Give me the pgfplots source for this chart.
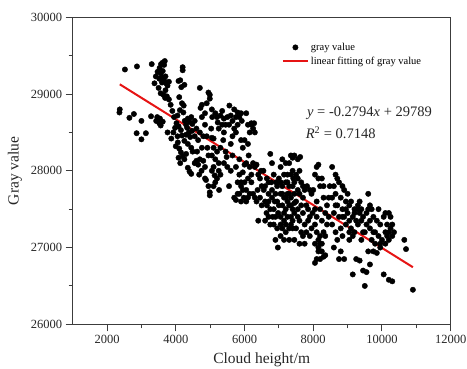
\documentclass[border=0pt]{standalone}
\usepackage{pgfplots}
\pgfplotsset{compat=1.18}
\usepackage{fontspec}
\setmainfont{Liberation Serif}
\definecolor{fitred}{RGB}{230,20,20}
\definecolor{axgray}{RGB}{60,60,60}
\pgfplotsset{
  scatleg/.style={legend image code/.code={\draw[##1] plot coordinates {(12.5pt,0pt)};}},
  lineleg/.style={legend image code/.code={\draw[##1] (0pt,0pt) -- (25pt,0pt);}},
}
\begin{document}
\begin{tikzpicture}
\begin{axis}[
  scale only axis,
  width=378pt, height=307pt,
  xmin=1000, xmax=12000, ymin=26000, ymax=30000,
  xtick={2000,4000,...,12000}, ytick={26000,27000,...,30000},
  minor x tick num=1, minor y tick num=1,
  xtick pos=bottom, ytick pos=left,
  tick align=outside,
  major tick length=7pt, minor tick length=4pt,
  axis line style={axgray, line width=1.1pt},
  every tick/.style={axgray, line width=1pt},
  scaled ticks=false,
  /pgf/number format/1000 sep={},
  /pgf/number format/assume math mode=true,
  tick label style={font=\fontsize{12.5}{14}\selectfont, text=black!85},
  xlabel={Cloud height/m}, ylabel={Gray value},
  label style={font=\fontsize{15.5}{18}\selectfont, text=black!85},
  xlabel style={at={(axis description cs:0.5,-0.117)}, anchor=center},
  ylabel style={at={(axis description cs:-0.153,0.5)}, anchor=center},
  legend style={draw=none, fill=none, at={(axis description cs:0.545,0.93)}, anchor=north west,
    font=\fontsize{10.5}{12}\selectfont, row sep=1pt},
  legend cell align=left,
]
\addplot[only marks, mark=*, mark size=2.7pt, black, scatleg]
table[row sep=\\]{
x y\\
2370 28800\\ 2360 28760\\ 2520 29320\\ 2870 29360\\ 2650 28690\\ 2780 28740\\ 2860 28490\\ 3000 28410\\ 3000 28650\\ 3130 28490\\ 3300 29390\\ 3280 28710\\ 3380 29140\\ 3420 29230\\ 3430 28650\\
3470 29290\\ 3530 29340\\ 3570 29390\\ 3620 29410\\ 3680 29430\\ 3660 29380\\ 3560 29270\\ 3620 29300\\ 3600 29220\\ 3700 29230\\ 3520 29200\\ 3600 29150\\ 3660 29180\\ 3720 29140\\ 3500 29080\\ 3560 29010\\ 3640 28990\\ 3760 29110\\ 3800 29160\\ 3460 28700\\ 3540 28680\\ 3560 28590\\ 3690 28950\\ 3800 28930\\ 3850 28860\\ 3760 28500\\ 3900 28780\\ 3950 28700\\ 3980 28560\\ 3870 28420\\ 3930 28500\\ 3620 28640\\ 3520 28620\\ 3700 29050\\ 3740 28970\\
4080 29170\\ 4130 29180\\ 4200 29350\\ 4200 29310\\ 4160 29090\\ 4100 28960\\ 4250 29120\\ 4180 28880\\ 4120 28790\\ 4050 28720\\ 4230 28850\\ 4220 28760\\ 4020 28620\\ 4080 28580\\ 4150 28530\\ 4260 28650\\ 4300 28600\\ 4350 28680\\ 4400 28640\\ 4450 28700\\ 4480 28610\\ 4380 28500\\ 4420 28440\\ 4180 28460\\ 4250 28390\\ 4300 28470\\ 4060 28370\\ 4000 28320\\ 4100 28290\\ 4150 28240\\ 4200 28190\\ 4080 28170\\ 4130 28100\\ 4350 28350\\ 4450 28300\\ 4490 28250\\ 4250 28150\\ 4350 28040\\ 4400 27990\\ 4450 27960\\ 4300 28220\\ 4050 28450\\ 4330 28560\\ 4470 28520\\
4550 28100\\ 4600 28130\\ 4650 28080\\ 4700 28150\\ 4760 28300\\ 4650 28400\\ 4700 28500\\ 4550 28450\\ 4600 28550\\ 4760 28700\\ 4720 28820\\ 4760 28860\\ 4700 29080\\ 4850 28750\\ 4900 28880\\ 4950 29020\\ 4990 28990\\ 4990 28940\\ 4850 28600\\ 4900 28450\\ 4620 28250\\ 4800 28130\\ 4850 27900\\ 4750 28000\\ 4880 27880\\ 4950 27800\\ 4990 27680\\ 4990 27720\\ 4550 28650\\ 4800 28450\\ 4920 28300\\ 4950 28200\\ 4850 28050\\ 4680 27950\\
5050 28800\\ 5060 28700\\ 5150 28750\\ 5200 28700\\ 5300 28720\\ 5400 28680\\ 5350 28600\\ 5250 28550\\ 5100 28420\\ 5050 28430\\ 5100 28300\\ 5200 28250\\ 5050 28200\\ 5150 28150\\ 5250 28100\\ 5100 28050\\ 5300 27950\\ 5200 27900\\ 5150 27850\\ 5100 27800\\ 5250 28000\\ 5450 28250\\ 5400 28100\\ 5500 28050\\ 5550 27800\\ 5400 28500\\ 5450 28600\\ 5500 28700\\ 5350 28780\\ 5030 28550\\ 5050 28000\\ 5220 28630\\ 5300 28300\\ 5380 28400\\ 5480 28180\\ 5260 27750\\ 5130 27940\\
5560 28850\\ 5700 28800\\ 5800 28760\\ 5750 28700\\ 5650 28650\\ 5850 28700\\ 5900 28750\\ 5800 28600\\ 5700 28550\\ 5750 28500\\ 5600 28350\\ 5650 28200\\ 5750 28050\\ 5850 27950\\ 5800 27850\\ 5900 27800\\ 5700 27650\\ 5750 27620\\ 5850 27700\\ 5900 27600\\ 5950 27750\\ 5980 27650\\ 5900 27850\\ 5950 27980\\ 5850 28150\\ 5950 28300\\ 5900 28400\\ 5600 28720\\ 5550 28600\\ 5650 28450\\ 5800 27700\\ 5600 28000\\ 5920 28650\\
6050 28750\\ 6100 28600\\ 6200 28600\\ 6250 28550\\ 6150 28500\\ 6300 28500\\ 6100 28350\\ 6000 28400\\ 6050 28100\\ 6150 28050\\ 6200 27950\\ 6250 28100\\ 6300 28050\\ 6100 27900\\ 6000 27850\\ 6050 27750\\ 6150 27700\\ 6250 27700\\ 6300 27650\\ 6050 27600\\ 6100 27650\\ 6400 27350\\ 6350 27600\\ 6200 27850\\ 6400 27950\\ 6450 27900\\ 6500 27800\\ 6480 28000\\ 6350 28080\\ 6200 28620\\ 6280 28620\\ 6000 28080\\ 6120 28200\\ 6380 27750\\ 6500 27550\\ 6450 27650\\
6750 28220\\ 6800 28100\\ 6850 27950\\ 6700 27850\\ 6650 27900\\ 6600 27800\\ 6600 27600\\ 6650 27550\\ 6700 27400\\ 6600 27350\\ 6750 27300\\ 6800 27650\\ 6850 27500\\ 6900 27700\\ 6950 27800\\ 6950 27600\\ 6900 27400\\ 6850 27300\\ 6900 27100\\ 6950 27250\\ 7000 27900\\ 6800 27750\\ 6700 27700\\ 6550 28000\\ 6750 27500\\ 6560 27750\\ 6640 27450\\ 6780 27850\\ 6880 27600\\ 6920 27850\\ 6980 27450\\ 6820 27400\\ 6700 27600\\ 6970 27000\\
7050 28050\\ 7100 28150\\ 7200 28100\\ 7300 28100\\ 7350 28200\\ 7400 28170\\ 7450 28200\\ 7150 27950\\ 7250 27950\\ 7350 27950\\ 7400 28000\\ 7100 27800\\ 7200 27850\\ 7300 27800\\ 7450 27850\\ 7050 27700\\ 7150 27650\\ 7250 27700\\ 7350 27650\\ 7450 27700\\ 7100 27550\\ 7200 27500\\ 7300 27550\\ 7400 27500\\ 7050 27400\\ 7150 27350\\ 7250 27400\\ 7350 27400\\ 7450 27450\\ 7100 27250\\ 7200 27200\\ 7300 27250\\ 7400 27250\\ 7450 27100\\ 7050 27150\\ 7150 27100\\ 7300 27100\\ 7250 27600\\ 7350 27300\\ 7000 27550\\ 7400 27800\\ 7200 27300\\ 7050 27850\\ 7150 27450\\ 7250 27850\\ 7350 27550\\ 7450 27580\\ 7100 27700\\ 7300 27700\\ 7400 27350\\ 7200 27650\\ 7420 27900\\ 7050 27300\\
7550 28150\\ 7600 28000\\ 7550 27900\\ 7650 27850\\ 7700 27800\\ 7600 27700\\ 7750 27750\\ 7500 27600\\ 7650 27550\\ 7550 27400\\ 7700 27450\\ 7800 27550\\ 7850 27500\\ 7900 27400\\ 7500 27250\\ 7650 27200\\ 7800 27200\\ 7900 27150\\ 7600 27050\\ 7700 27150\\ 7950 27700\\ 7900 27750\\ 7850 27350\\ 7950 27250\\ 7600 27350\\ 7750 27300\\ 7700 27650\\ 7550 27750\\ 7500 27950\\ 7620 28180\\ 7750 27050\\ 7980 27450\\ 7550 27500\\ 7820 27800\\
8100 28050\\ 8150 28080\\ 8050 27950\\ 8150 27900\\ 8250 27900\\ 8200 27800\\ 8300 27650\\ 8050 27500\\ 8100 27400\\ 8200 27500\\ 8350 27450\\ 8250 27350\\ 8100 27200\\ 8150 27100\\ 8200 27150\\ 8050 27050\\ 8150 27000\\ 8250 26950\\ 8100 26850\\ 8050 26800\\ 8200 26850\\ 8350 26900\\ 8400 27300\\ 8450 27400\\ 8350 27150\\ 8050 27300\\ 8300 27200\\ 8450 27650\\ 8400 27550\\ 8150 26950\\ 8300 26880\\ 8200 27050\\ 8000 27750\\ 8100 27600\\ 8300 27800\\ 8480 27800\\ 8250 27050\\
8550 28050\\ 8650 27950\\ 8700 27900\\ 8600 27800\\ 8750 27850\\ 8850 27800\\ 8900 27750\\ 8550 27650\\ 8650 27700\\ 8800 27650\\ 8700 27550\\ 8850 27500\\ 8600 27450\\ 8750 27400\\ 8900 27400\\ 8950 27500\\ 8650 27200\\ 8800 27250\\ 8950 27300\\ 8700 27100\\ 8850 27150\\ 8600 27000\\ 8800 26950\\ 8900 26850\\ 8750 26850\\ 8550 27300\\ 8950 27600\\ 9000 27700\\ 8650 27550\\ 8850 27400\\
9050 27550\\ 9100 27600\\ 9200 27500\\ 9300 27550\\ 9350 27600\\ 9400 27500\\ 9150 27400\\ 9250 27350\\ 9350 27450\\ 9050 27350\\ 9100 27250\\ 9200 27200\\ 9300 27300\\ 9450 27400\\ 9150 27150\\ 9400 27100\\ 9450 27200\\ 9050 27100\\ 9250 26850\\ 9350 26830\\ 9150 26650\\ 9450 26700\\ 9500 26500\\ 9000 27450\\ 9200 27450\\ 9400 27350\\ 9300 27500\\ 9050 27200\\
9600 27700\\ 9650 27550\\ 9550 27450\\ 9700 27500\\ 9750 27400\\ 9850 27350\\ 9900 27500\\ 9550 27300\\ 9650 27250\\ 9800 27200\\ 9900 27150\\ 9700 27100\\ 9800 27050\\ 9950 27050\\ 9600 26950\\ 9750 26950\\ 9850 26930\\ 9950 27000\\ 9650 26780\\ 9550 26680\\ 9500 27200\\ 9950 27300\\ 9650 27350\\ 9750 27200\\ 9600 27500\\
10050 27400\\ 10100 27450\\ 10200 27450\\ 10250 27400\\ 10100 27200\\ 10150 27150\\ 10250 27250\\ 10300 27300\\ 10350 27200\\ 10000 27100\\ 10100 27050\\ 10200 27100\\ 10300 27150\\ 10050 26650\\ 10200 26580\\ 10300 26560\\ 10650 27100\\ 10700 26980\\ 10900 26450\\ 10150 27300\\ 10200 27200\\
};
\addlegendentry{gray value}
\addplot[fitred, line width=2pt, lineleg]
coordinates {(2370,29127) (10900,26744)};
\addlegendentry{linear fitting of gray value}
\node[anchor=west, font=\fontsize{14.5}{16}\selectfont, text=black!85] at (axis cs:7720,28750) {\textit{y} = -0.2794\textit{x} + 29789};
\node[anchor=west, font=\fontsize{14.5}{16}\selectfont, text=black!85] at (axis cs:7680,28500) {\textit{R}\textsuperscript{2} = 0.7148};
\end{axis}
\pgfresetboundingbox
\path ([shift={(-72.7pt,-43.7pt)}]current axis.south west) rectangle ++(467pt,368pt);
\end{tikzpicture}
\end{document}
